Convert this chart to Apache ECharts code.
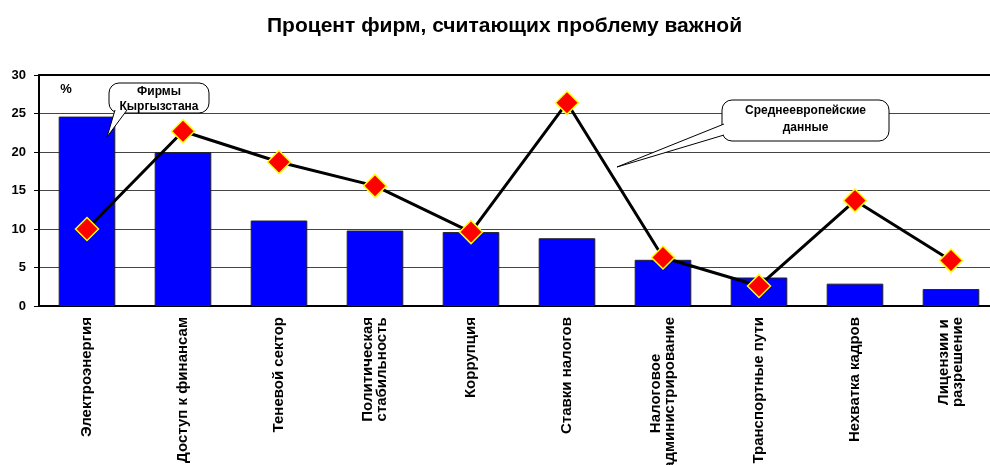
<!DOCTYPE html>
<html>
<head>
<meta charset="utf-8">
<title>Процент фирм</title>
<script src="https://cdn.jsdelivr.net/npm/echarts@6/dist/echarts.min.js"></script>
<style>
    html, body {margin: 0; padding: 0; background: #fff;}
    #main {width: 990px; height: 465px;}
</style>
</head>
<body>
<div id="main"></div>
<script>
// данные графика
var categories = ['Электроэнергия', 'Доступ к финансам', 'Теневой сектор', 'Политическая\nстабильность',
    'Коррупция', 'Ставки налогов', 'Налоговое\nадминистрирование', 'Транспортные пути',
    'Нехватка кадров', 'Лицензии и\nразрешение'];
var kyrgyzFirms = [24.6, 20.0, 11.1, 9.8, 9.6, 8.8, 6.0, 3.7, 2.9, 2.2];
var europeAvg = [10.0, 22.7, 18.7, 15.6, 9.6, 26.4, 6.3, 2.6, 13.7, 5.9];
var yTicks = [0, 5, 10, 15, 20, 25, 30];

var FONT = '"Liberation Sans", Arial, sans-serif';

var chart = echarts.init(document.getElementById('main'));

// выноска: прямоугольник со скруглёнными углами и хвостиком
function callout(box, tail, lines, lineY) {
    var els = [
        {type: 'rect', shape: {x: box[0], y: box[1], width: box[2], height: box[3], r: 10},
            style: {fill: '#fff', stroke: '#000', lineWidth: 1}, z: 100},
        {type: 'polygon', shape: {points: tail},
            style: {fill: '#fff', stroke: null}, z: 101},
        {type: 'polyline', shape: {points: [tail[0], tail[1], tail[2]]},
            style: {stroke: '#000', lineWidth: 1, fill: null}, z: 102}
    ];
    for (var i = 0; i < lines.length; i++) {
        els.push({type: 'text', z: 103,
            style: {text: lines[i], x: box[0] + box[2] / 2, y: lineY[i], align: 'center', verticalAlign: 'middle',
                font: 'bold 12px ' + FONT, fill: '#000'}});
    }
    return els;
}

var graphics = [
    {type: 'text', z: 50, style: {text: '%', x: 66, y: 89, align: 'center', verticalAlign: 'middle',
        font: 'bold 13px ' + FONT, fill: '#000'}}
].concat(
    callout([109, 83, 100, 30], [[115, 110], [107, 137], [127, 110], [121, 108]], ['Фирмы', 'Кыргызстана'], [92, 107]),
    callout([722, 100, 167, 41], [[724, 124], [617, 167], [724, 135], [726, 130]], ['Среднеевропейские', 'данные'], [111, 128])
);

var option = {
    animation: false,
    title: {
        text: 'Процент фирм, считающих проблему важной',
        left: 262,
        top: 11,
        textStyle: {fontFamily: FONT, fontSize: 21, fontWeight: 'bold', color: '#000'}
    },
    grid: {left: 39, top: 75, width: 960, height: 231, outerBoundsMode: 'none'},
    xAxis: [
        {
            type: 'category',
            data: categories,
            axisLine: {lineStyle: {color: '#000', width: 2}},
            axisTick: {length: 5, lineStyle: {color: '#333'}},
            axisLabel: {
                interval: 0,
                rotate: 90,
                margin: 11,
                formatter: function (v) {
                    return v.split('\n').map(function (s) { return '{c|' + s + '}'; }).join('\n');
                },
                rich: {
                    c: {fontFamily: FONT, fontSize: 15, fontWeight: 'bold', color: '#000', align: 'center', lineHeight: 14}
                }
            }
        },
        {
            // верхняя рамка области построения
            type: 'category',
            position: 'top',
            data: categories,
            axisLine: {lineStyle: {color: '#000', width: 2}},
            axisTick: {show: false},
            axisLabel: {show: false}
        }
    ],
    yAxis: {
        type: 'value',
        min: yTicks[0],
        max: yTicks[yTicks.length - 1],
        interval: 5,
        axisLine: {show: true, lineStyle: {color: '#000', width: 2}},
        axisTick: {show: true, length: 5, lineStyle: {color: '#000'}},
        axisLabel: {margin: 13, fontFamily: FONT, fontSize: 13, fontWeight: 'bold', color: '#000'},
        splitLine: {lineStyle: {color: '#444', width: 1}}
    },
    series: [
        {
            name: 'Фирмы Кыргызстана',
            type: 'bar',
            data: kyrgyzFirms,
            barWidth: '59%',
            itemStyle: {color: '#0000ff', borderColor: '#222', borderWidth: 1}
        },
        {
            name: 'Среднеевропейские данные',
            type: 'line',
            data: europeAvg,
            symbol: 'diamond',
            symbolSize: 23,
            lineStyle: {color: '#000', width: 3},
            itemStyle: {color: '#ff0000', borderColor: '#ffff00', borderWidth: 1.5},
            z: 10
        }
    ],
    graphic: graphics
};

chart.setOption(option);
</script>
</body>
</html>
